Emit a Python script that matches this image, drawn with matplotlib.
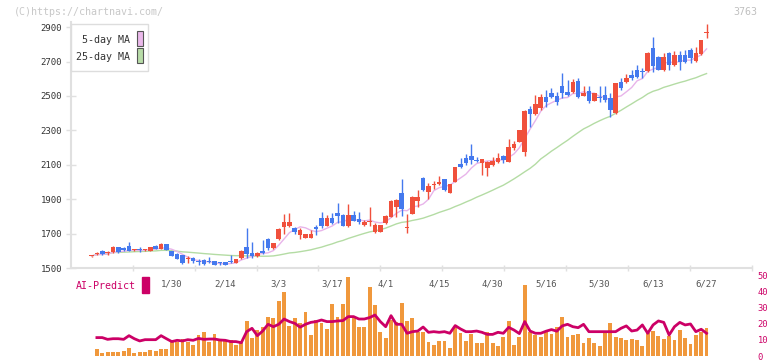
import numpy as np
import pandas as pd
import matplotlib
matplotlib.use("Agg")
import matplotlib.pyplot as plt
from matplotlib.patches import Rectangle

# daily candles, 2025-01-08 .. 2025-06-27 (index = trading day)
opens = [1568, 1583, 1599, 1585, 1591, 1620, 1618, 1628, 1605, 1610,
         1603, 1601, 1630, 1610, 1640, 1599, 1581, 1576, 1552, 1560,
         1540, 1545, 1535, 1541, 1530, 1535, 1537, 1531, 1556, 1624,
         1589, 1570, 1599, 1667, 1614, 1669, 1740, 1745, 1731, 1692,
         1676, 1676, 1740, 1789, 1744, 1789, 1821, 1808, 1744, 1808,
         1785, 1750, 1769, 1711, 1711, 1760, 1798, 1857, 1938, 1730,
         1814, 1891, 2025, 1944, 1982, 1987, 2016, 1938, 2002, 2105,
         2138, 2151, 2128, 2112, 2080, 2099, 2118, 2151, 2118, 2196,
         2234, 2176, 2423, 2394, 2428, 2496, 2519, 2500, 2558, 2525,
         2525, 2587, 2502, 2529, 2471, 2490, 2506, 2490, 2399, 2583,
         2583, 2622, 2651, 2645, 2648, 2781, 2729, 2651, 2752, 2680,
         2738, 2738, 2767, 2703, 2744, 2866]
highs = [1572, 1594, 1602, 1598, 1626, 1622, 1624, 1651, 1612, 1622,
         1610, 1622, 1636, 1648, 1642, 1601, 1590, 1578, 1568, 1566,
         1550, 1550, 1566, 1543, 1537, 1537, 1576, 1555, 1603, 1734,
         1653, 1595, 1663, 1675, 1648, 1730, 1812, 1821, 1740, 1730,
         1700, 1720, 1750, 1827, 1810, 1818, 1880, 1815, 1872, 1831,
         1827, 1777, 1857, 1760, 1752, 1806, 1895, 1899, 2017, 1814,
         1918, 1953, 2030, 1992, 2006, 2034, 2020, 1990, 2087, 2140,
         2160, 2221, 2145, 2134, 2120, 2145, 2170, 2157, 2248, 2240,
         2304, 2417, 2442, 2506, 2510, 2535, 2545, 2525, 2636, 2593,
         2597, 2603, 2558, 2558, 2520, 2558, 2558, 2515, 2575, 2603,
         2630, 2651, 2680, 2661, 2758, 2845, 2733, 2750, 2758, 2762,
         2762, 2767, 2776, 2787, 2826, 2918]
lows = [1566, 1576, 1576, 1578, 1588, 1589, 1598, 1597, 1600, 1592,
        1598, 1600, 1612, 1608, 1603, 1568, 1550, 1525, 1527, 1530,
        1515, 1518, 1527, 1515, 1517, 1517, 1527, 1529, 1552, 1556,
        1560, 1565, 1580, 1606, 1610, 1665, 1696, 1740, 1700, 1670,
        1673, 1673, 1690, 1730, 1742, 1758, 1763, 1744, 1736, 1771,
        1758, 1744, 1744, 1705, 1709, 1757, 1795, 1798, 1804, 1703,
        1812, 1855, 1950, 1900, 1962, 1984, 1950, 1935, 2000, 2082,
        2100, 2105, 2115, 2041, 2037, 2095, 2108, 2112, 2116, 2184,
        2232, 2151, 2318, 2392, 2418, 2434, 2486, 2448, 2486, 2500,
        2519, 2486, 2500, 2457, 2469, 2467, 2467, 2380, 2396, 2535,
        2573, 2593, 2603, 2603, 2641, 2641, 2651, 2648, 2651, 2676,
        2651, 2690, 2690, 2700, 2740, 2839]
closes = [1570, 1587, 1580, 1590, 1624, 1591, 1603, 1599, 1608, 1606,
          1606, 1620, 1608, 1642, 1605, 1570, 1555, 1527, 1556, 1541,
          1535, 1522, 1532, 1517, 1527, 1520, 1534, 1552, 1601, 1580,
          1570, 1589, 1585, 1618, 1644, 1727, 1769, 1769, 1711, 1721,
          1698, 1698, 1727, 1744, 1789, 1763, 1804, 1746, 1808, 1775,
          1769, 1769, 1773, 1750, 1750, 1802, 1891, 1895, 1841, 1736,
          1915, 1915, 1953, 1977, 1987, 2002, 1953, 1988, 2085, 2089,
          2112, 2128, 2120, 2132, 2118, 2124, 2141, 2128, 2203, 2221,
          2302, 2415, 2394, 2453, 2492, 2467, 2496, 2467, 2519, 2506,
          2583, 2496, 2519, 2471, 2515, 2487, 2477, 2419, 2573, 2545,
          2606, 2603, 2612, 2641, 2750, 2676, 2651, 2729, 2680, 2738,
          2699, 2699, 2723, 2752, 2824, 2870]

# volume bars and AI-Predict line (right scale 0-50)
volume = [0, 4.2, 1.7, 2.7, 2.3, 2.7, 3.1, 4.8, 1.7, 2.7,
          2.3, 3.75, 3.1, 4.4, 4.4, 10, 9, 10.6, 9, 6.9,
          13.1, 14.8, 8.5, 13.5, 10, 9.4, 10, 6.9, 9, 21.9,
          11.5, 16.3, 18.3, 24.2, 23.5, 34.4, 39.8, 18.75, 23.5, 20.4,
          27.7, 13.1, 22.5, 20.4, 16.9, 32.3, 24.2, 32.3, 49.2, 24.6,
          17.9, 17.9, 42.9, 31.9, 15.2, 11, 22.5, 21.5, 32.9, 22.1,
          23.5, 15.2, 15.2, 8.5, 6.9, 9.6, 9.6, 4.8, 18.3, 14.2,
          9.6, 13.5, 7.9, 7.9, 15.2, 7.9, 6.25, 11.7, 21.9, 6.9,
          11.7, 44.4, 14.8, 13.1, 11.7, 15.4, 13.5, 18, 24.2, 11.7,
          13.1, 13.5, 7.9, 11, 7.9, 6.25, 15.2, 20.4, 11.7, 11,
          10, 10.4, 10, 6.25, 14.2, 15.6, 12.5, 10.6, 12.5, 10,
          16, 11, 7.5, 13.1, 14.8, 17.3]
ai_predict = [np.nan, 11.5, 11.5, 10.4, 10.8, 10.8, 10.4, 12.7, 10.8, 9.4,
              10.2, 10.2, 10.2, 12.7, 10.8, 9.0, 9.8, 9.4, 10.2, 9.8,
              11.0, 10.4, 10.6, 10.6, 10.0, 9.8, 9.0, 9.0, 8.3, 15.2,
              17.3, 12.7, 15.6, 19.8, 18.3, 19.8, 23.1, 21.5, 20.4, 18.0,
              19.8, 21.0, 21.5, 22.5, 21.5, 21.5, 21.9, 22.1, 24.6, 24.6,
              23.1, 23.1, 24.0, 25.6, 21.5, 18.3, 25.2, 19.8, 19.8, 14.2,
              15.2, 15.6, 18.1, 14.8, 15.2, 14.8, 15.2, 14.2, 19.0, 16.9,
              15.2, 15.2, 15.6, 14.8, 13.5, 13.5, 14.8, 14.2, 17.9, 16.2,
              14.0, 21.5, 15.6, 14.2, 14.2, 15.5, 16.5, 15.5, 18.8, 19.8,
              18.3, 17.7, 19.8, 15.2, 15.2, 15.2, 15.2, 15.2, 15.2, 17.3,
              18.8, 15.6, 16.2, 19.4, 14.2, 19.4, 21.9, 21.0, 13.1, 18.3,
              21.0, 19.4, 20.0, 15.2, 16.7, 14.2]

label_days = [15, 25, 35, 45, 55, 65, 75, 85, 95, 105, 115]
date_labels = ['1/30', '2/14', '3/3', '3/17', '4/1', '4/15',
               '4/30', '5/16', '5/30', '6/13', '6/27']

RED = '#f0503c'
BLUE = '#4479ee'
ORANGE = '#f0983c'
MAGENTA = '#cc0066'
GRID = '#e0e0e0'
MONO = 'DejaVu Sans Mono'
plt.rcParams['font.family'] = MONO

o = np.array(opens, float)
c = np.array(closes, float)
x = np.arange(len(c))
ma5 = pd.Series(c).rolling(5, min_periods=1).mean()
ma25 = pd.Series(c).rolling(25, min_periods=1).mean()

W, H = 772, 361
fig = plt.figure(figsize=(W / 100, H / 100), dpi=100)


def box(l, t, r, b):
    return [l / W, 1 - b / H, (r - l) / W, (b - t) / H]


ax = fig.add_axes(box(70.7, 22, 752, 268))
axv = fig.add_axes(box(70.7, 275, 752, 356))
ax.set_facecolor('none')
axv.set_facecolor('none')

# price panel
col = np.where(c >= o, RED, BLUE)
ax.plot(x, ma25, color='#b4dca4', lw=1, zorder=1)
ax.plot(x, ma5, color='#e8b4ea', lw=1, zorder=1)
ax.vlines(x, lows, highs, colors=col, lw=1, zorder=2)
ax.bar(x, np.maximum(np.abs(c - o), 6), 0.85, bottom=np.minimum(o, c),
       color=col, lw=0, zorder=3)

xmin, xmax = -3.9, 123.5
ax.set_xlim(xmin, xmax)
ax.set_ylim(1500, 2930)
for s in ['top', 'right']:
    ax.spines[s].set_visible(False)
for s in ['left', 'bottom']:
    ax.spines[s].set_color(GRID)
    ax.spines[s].set_linewidth(1.5)
ax.set_yticks(range(1500, 3000, 200))
ax.tick_params(axis='y', direction='inout', length=6.5, width=1, color=GRID,
               labelsize=6.5, labelcolor='#333333', pad=3)
ax.set_xticks(label_days, date_labels)
ax.set_xticks(np.linspace(xmin, xmax, 12)[1:], minor=True)
ax.tick_params(axis='x', which='major', length=0, pad=8, labelsize=6.5,
               labelcolor='#555555')
ax.tick_params(axis='x', which='minor', direction='inout', length=5, width=1,
               color=GRID)

# volume / AI panel
axv.bar(x, volume, 0.72, color=ORANGE, lw=0)
axv.plot(x, ai_predict, color=MAGENTA, lw=2)
axv.set_xlim(xmin, xmax)
axv.set_ylim(0, 50.6)
axv.yaxis.tick_right()
axv.set_yticks(range(0, 60, 10))
axv.tick_params(axis='y', length=0, pad=4, labelsize=6.3, labelcolor=MAGENTA)
axv.tick_params(axis='x', which='both', bottom=False, labelbottom=False)
for s in axv.spines.values():
    s.set_visible(False)

# texts and legend
fig.text(14 / W, 1 - 12 / H, '(C)https://chartnavi.com/', fontsize=7.2,
         color='#c8c8c8', va='center')
fig.text(757 / W, 1 - 12 / H, '3763', fontsize=7.2, color='#c0c0c0',
         va='center', ha='right')
fig.text(75.7 / W, 1 - 286 / H, 'AI-Predict', fontsize=7.2, color=MAGENTA,
         va='center')
fig.patches.append(Rectangle((142 / W, 1 - 293 / H), 7 / W, 16 / H,
                             transform=fig.transFigure, color=MAGENTA))

fig.patches.append(Rectangle((70.7 / W, 1 - 71 / H), 77.3 / W, 47 / H,
                             transform=fig.transFigure, facecolor='white',
                             edgecolor='#dddddd', lw=1))
fig.text(130 / W, 1 - 40 / H, '5-day MA', fontsize=7.2, color='#333333',
         va='center', ha='right')
fig.text(130 / W, 1 - 57 / H, '25-day MA', fontsize=7.2, color='#333333',
         va='center', ha='right')
fig.patches.append(Rectangle((136.7 / W, 1 - 46 / H), 6 / W, 15 / H,
                             transform=fig.transFigure, facecolor='#eab8ea',
                             edgecolor='#555555', lw=0.8))
fig.patches.append(Rectangle((136.7 / W, 1 - 63 / H), 6 / W, 15 / H,
                             transform=fig.transFigure, facecolor='#b8dca8',
                             edgecolor='#555555', lw=0.8))

fig.savefig('out.png', dpi=100)
